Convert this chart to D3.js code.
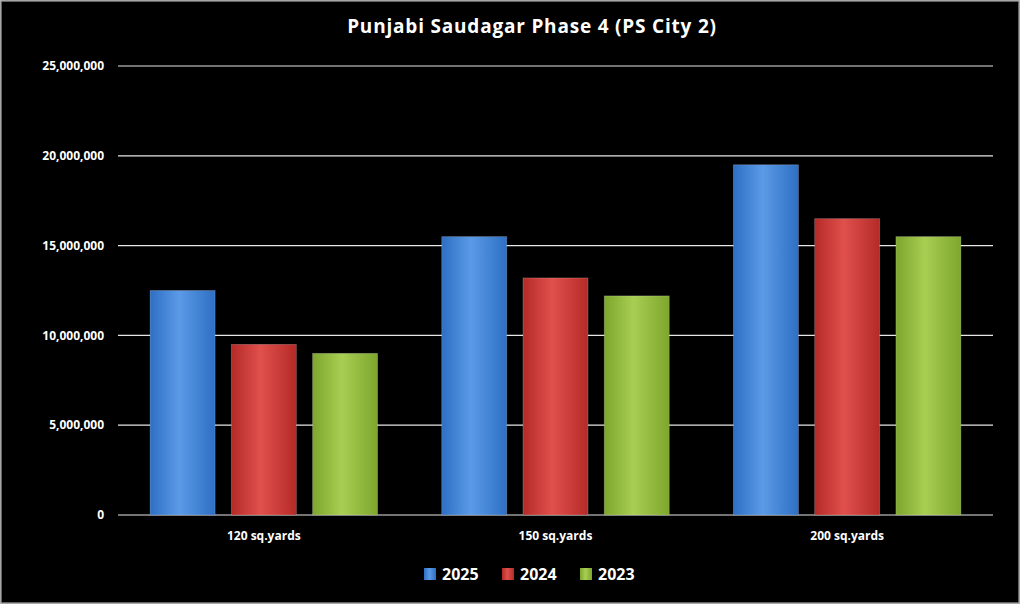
<!DOCTYPE html>
<html>
<head>
<meta charset="utf-8">
<script src="https://cdn.jsdelivr.net/npm/d3@7"></script>
<style>
  body { margin: 0; background: #fff; }
  svg { display: block; }
</style>
</head>
<body>
<svg id="chart" width="1024" height="606"></svg>
<script>
const categories = ["120 sq.yards", "150 sq.yards", "200 sq.yards"];
const years = ["2025", "2024", "2023"];
const values2025 = [12500000, 15500000, 19500000];
const values2024 = [9500000, 13200000, 16500000];
const values2023 = [9000000, 12200000, 15500000];
const yTicks = [0, 5000000, 10000000, 15000000, 20000000, 25000000];
const colors = { "2025": ["#2f6fc4", "#5a9ae6"], "2024": ["#b42a27", "#e0504c"], "2023": ["#7ea52d", "#a8cf52"] };

const series = [values2025, values2024, values2023];
const data = categories.map((c, i) => ({
  cat: c,
  vals: years.map((y, j) => ({ year: y, value: series[j][i] }))
}));

const svg = d3.select("#chart");
svg.append("rect").attr("x", 1).attr("y", 1).attr("width", 1018).attr("height", 602)
  .attr("fill", "#000").attr("stroke", "#888").attr("stroke-width", 1.5);

const defs = svg.append("defs");
years.forEach((y) => {
  const g = defs.append("linearGradient").attr("id", "g" + y)
    .attr("x1", "0%").attr("x2", "100%").attr("y1", "0%").attr("y2", "0%");
  g.append("stop").attr("offset", "0%").attr("stop-color", colors[y][0]);
  g.append("stop").attr("offset", "45%").attr("stop-color", colors[y][1]);
  g.append("stop").attr("offset", "100%").attr("stop-color", colors[y][0]);
});

const margin = { top: 66, left: 118, right: 31, bottom: 91 };
const width = 1024 - margin.left - margin.right;
const height = 606 - margin.top - margin.bottom;
const g = svg.append("g").attr("transform", `translate(${margin.left},${margin.top})`);

const x0 = d3.scaleBand().domain(categories).range([0, width]).paddingInner(0.22).paddingOuter(0.11);
const x1 = d3.scaleBand().domain(years).range([0, x0.bandwidth()]).paddingInner(0.2);
const y = d3.scaleLinear().domain([0, 25000000]).range([height, 0]);

g.selectAll(".grid").data(yTicks).enter().append("line")
  .attr("x1", 0).attr("x2", width)
  .attr("y1", (d) => y(d)).attr("y2", (d) => y(d))
  .attr("stroke", "#e6e6e6").attr("stroke-width", 1.2);

g.selectAll(".ylab").data(yTicks).enter().append("text")
  .attr("x", -14).attr("y", (d) => y(d)).attr("dy", "0.35em")
  .attr("text-anchor", "end").attr("fill", "#fff")
  .attr("font-family", "Open Sans, sans-serif").attr("font-size", 12).attr("font-weight", "bold")
  .text((d) => d3.format(",")(d));

const groups = g.selectAll(".grp").data(data).enter().append("g")
  .attr("transform", (d) => `translate(${x0(d.cat)},0)`);

groups.selectAll("rect").data((d) => d.vals).enter().append("rect")
  .attr("x", (d) => x1(d.year)).attr("width", x1.bandwidth())
  .attr("y", (d) => y(d.value)).attr("height", (d) => height - y(d.value))
  .attr("fill", (d) => `url(#g${d.year})`)
  .attr("stroke", "rgba(255,255,255,0.25)").attr("stroke-width", 0.8);

g.selectAll(".xlab").data(categories).enter().append("text")
  .attr("x", (d) => x0(d) + x0.bandwidth() / 2).attr("y", height + 25)
  .attr("text-anchor", "middle").attr("fill", "#fff")
  .attr("font-family", "Open Sans, sans-serif").attr("font-size", 12).attr("font-weight", "bold")
  .text((d) => d);

svg.append("text").attr("x", 532).attr("y", 33).attr("text-anchor", "middle")
  .attr("fill", "#fff").attr("font-family", "Open Sans, sans-serif")
  .attr("font-size", 19).attr("font-weight", "bold").attr("letter-spacing", 0.8)
  .text("Punjabi Saudagar Phase 4 (PS City 2)");

const legend = svg.append("g").attr("transform", "translate(424,574)");
const lx = d3.scalePoint().domain(years).range([0, 156]);
const li = legend.selectAll("g").data(years).enter().append("g")
  .attr("transform", (d) => `translate(${lx(d)},0)`);
li.append("rect").attr("x", 0).attr("y", -6).attr("width", 12).attr("height", 12)
  .attr("fill", (d) => `url(#g${d})`);
li.append("text").attr("x", 18).attr("y", 0).attr("dy", "0.36em")
  .attr("fill", "#fff").attr("font-family", "Open Sans, sans-serif")
  .attr("font-size", 16).attr("font-weight", "bold").text((d) => d);
</script>
</body>
</html>
